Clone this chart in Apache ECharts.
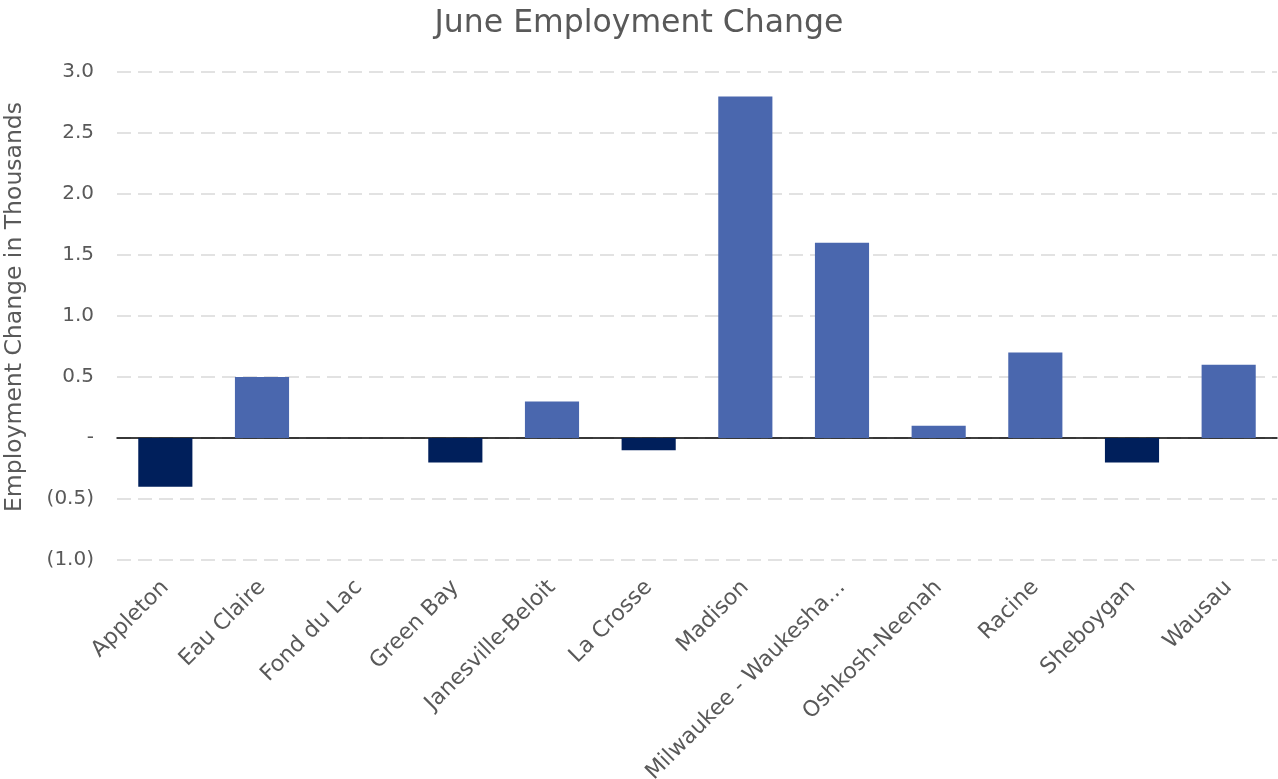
<!DOCTYPE html>
<html>
<head>
<meta charset="UTF-8"/>
<title>June Employment Change</title>
<script src="https://cdn.jsdelivr.net/npm/echarts@6/dist/echarts.min.js"></script>
<style>
  html, body { margin: 0; padding: 0; background: #fff; }
  #chart { width: 1278px; height: 779px; }
</style>
</head>
<body>
<div id="chart"></div>
<script>
// 各地区就业变化（千人）
var areas = ['Appleton', 'Eau Claire', 'Fond du Lac', 'Green Bay', 'Janesville-Beloit', 'La Crosse',
  'Madison', 'Milwaukee - Waukesha - West Allis', 'Oshkosh-Neenah', 'Racine', 'Sheboygan', 'Wausau'];
var change = [-0.4, 0.5, 0, -0.2, 0.3, -0.1, 2.8, 1.6, 0.1, 0.7, -0.2, 0.6];
var yMin = -1.0, yMax = 3.0, yStep = 0.5;

var font = '"DejaVu Sans", "Liberation Sans", sans-serif';
var myChart = echarts.init(document.getElementById('chart'));

var option = {
  animation: false,
  title: {
    text: 'June Employment Change',
    left: 'center',
    top: 3,
    textStyle: { fontFamily: font, fontSize: 31.5, fontWeight: 'normal', color: '#595959' }
  },
  grid: { left: 117, right: 1, top: 72, bottom: 219, outerBoundsMode: 'none', containLabel: false },
  xAxis: {
    type: 'category',
    data: areas,
    axisLine: { onZero: true, lineStyle: { color: '#000', width: 1.5 } },
    axisTick: { show: false },
    axisLabel: {
      interval: 0,
      rotate: 45,
      margin: 24,
      fontFamily: font,
      fontSize: 22,
      color: '#595959',
      formatter: function (v) { return v.length > 22 ? v.slice(0, 20) + '…' : v; }
    }
  },
  yAxis: {
    type: 'value',
    min: yMin,
    max: yMax,
    interval: yStep,
    name: 'Employment Change in Thousands',
    nameLocation: 'middle',
    nameGap: 90,
    nameTextStyle: { fontFamily: font, fontSize: 23.5, color: '#595959', padding: [0, 0, 0, 18] },
    axisLine: { show: false },
    axisTick: { show: false },
    axisLabel: {
      margin: 23,
      fontFamily: font,
      fontSize: 20,
      color: '#595959',
      formatter: function (v) {
        if (Math.abs(v) < 1e-9) return '-';
        var s = Math.abs(v).toFixed(1);
        return v < 0 ? '(' + s + ')' : s;
      }
    },
    splitLine: { lineStyle: { color: '#D9D9D9', width: 1.5, type: [14, 7] } }
  },
  series: [{
    type: 'bar',
    data: change,
    barWidth: '56%',
    itemStyle: {
      color: function (p) { return p.value < 0 ? '#001F5B' : '#4A67AE'; }
    }
  }]
};
myChart.setOption(option, true);
</script>
</body>
</html>
